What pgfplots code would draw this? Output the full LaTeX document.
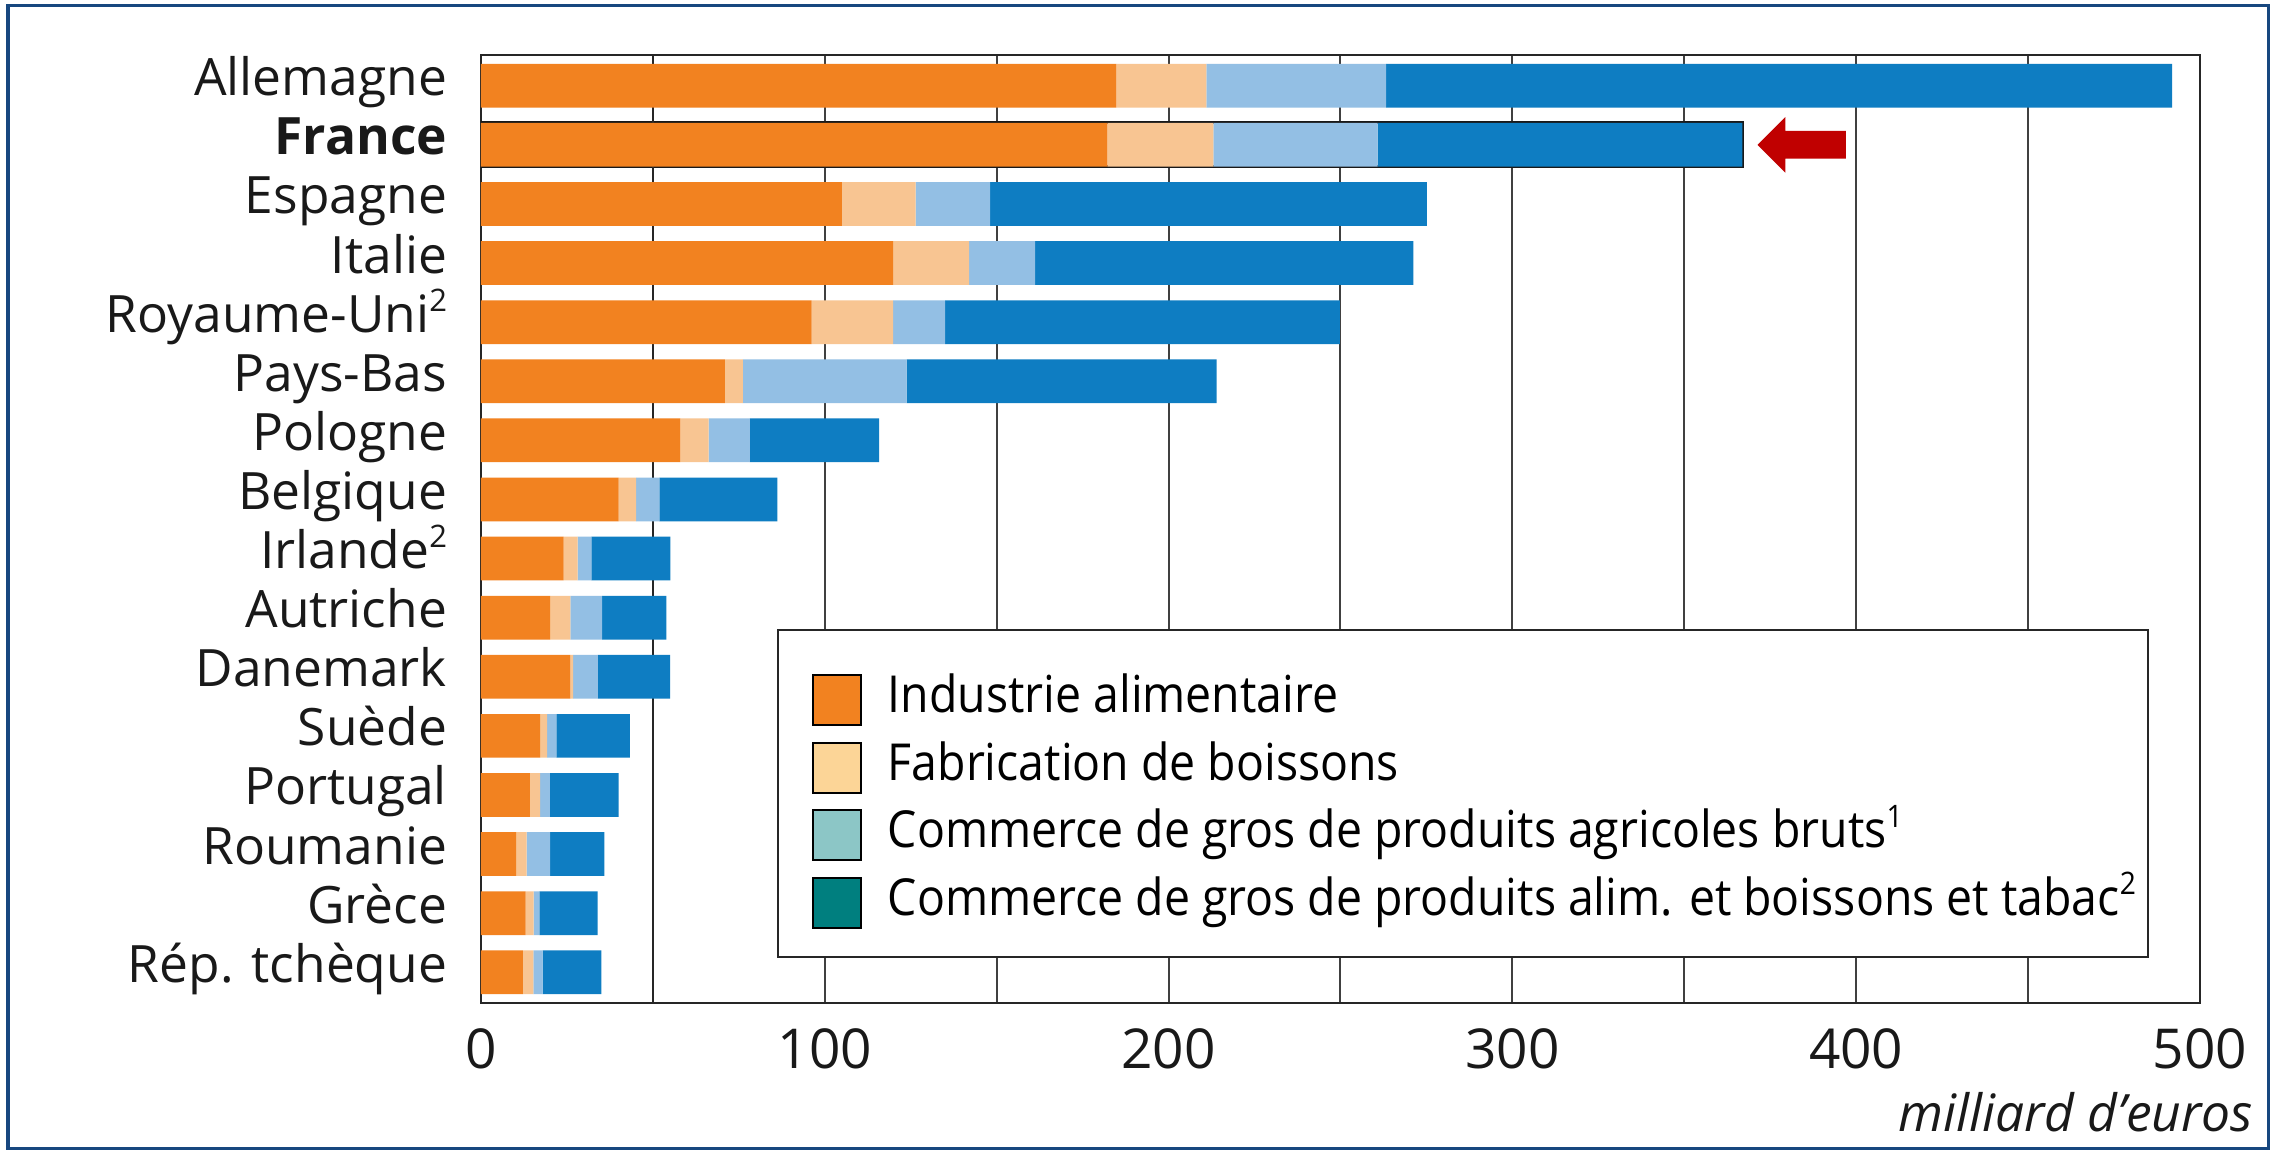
\documentclass[border=0pt]{standalone}
\usepackage{fontspec}
\setmainfont{Open Sans}
\newfontfamily\legfont{Open Sans}[FakeStretch=0.91]
\usepackage{pgfplots}
\pgfplotsset{compat=1.18}
\usepackage{pgfplotstable}

\definecolor{cOrange}{HTML}{F28220}
\definecolor{cPeach}{HTML}{F8C592}
\definecolor{cLBlue}{HTML}{93BFE4}
\definecolor{cDBlue}{HTML}{0E7DC2}
\definecolor{cLegPeach}{HTML}{FCD597}
\definecolor{cLegTeal}{HTML}{8CC6C6}
\definecolor{cLegDTeal}{HTML}{007F7F}
\definecolor{cArrow}{HTML}{C00000}
\definecolor{cFrame}{HTML}{17477F}

\newcommand{\sups}[1]{\raisebox{0.75ex}{\fontsize{6.2}{7}\selectfont #1}}

\pgfplotstableread{
idx a b c d
0 184.8 26.2 52.3 228.6
1 182.2 30.8 47.8 106.1
2 105.0 21.4 21.7 127.0
3 119.9 22.1 19.2 110.0
4 96.2 23.7 15.1 114.8
5 70.9 5.3 47.6 90.2
6 58.0 8.2 12.0 37.6
7 40.0 5.1 6.8 34.3
8 24.0 4.1 4.0 23.0
9 20.1 5.9 9.2 18.7
10 26.0 0.8 7.2 21.0
11 17.2 2.0 2.7 21.4
12 14.2 3.0 2.8 20.0
13 10.2 3.1 6.8 15.8
14 13.0 2.3 1.7 16.9
15 12.2 3.0 2.7 17.1
}\data

\begin{document}
\begin{tikzpicture}
\useasboundingbox (0,0) rectangle (456pt,230.8pt);
\fill[white] (0,0) rectangle (456pt,230.8pt);
\draw[cFrame, line width=0.7pt] (1.6pt,1.1pt) rectangle (453.7pt,229.7pt);
\begin{axis}[
  at={(96.2pt,30.2pt)}, anchor=south west,
  width=343.8pt, height=189.6pt, scale only axis,
  xbar stacked, bar width=0.74,
  xmin=0, xmax=500, ymin=-0.52, ymax=15.52, y dir=reverse,
  ytick={0,...,15},
  yticklabels={Allemagne,\textbf{France},Espagne,Italie,Royaume-Uni\sups{2},Pays-Bas,Pologne,Belgique,Irlande\sups{2},Autriche,Danemark,Suède,Portugal,Roumanie,Grèce,Rép. tchèque},
  xtick={0,100,...,500},
  minor xtick={50,150,...,450},
  xmajorgrids, xminorgrids,
  major grid style={black!75, line width=0.4pt},
  minor grid style={black!75, line width=0.4pt},
  major tick length=0pt, minor tick length=0pt,
  axis line style={black!85, line width=0.5pt},
  /pgf/number format/assume math mode=true,
  ticklabel style={text=black!90},
  yticklabel style={font=\fontsize{10.3}{12}\selectfont, inner sep=0pt, xshift=-6.6pt, text height=7.6pt, text depth=2.4pt, yshift=0.6pt},
  xticklabel style={font=\fontsize{11}{13}\selectfont, inner sep=0pt, yshift=-4.9pt},
  xlabel={\itshape milliard d’euros},
  xlabel style={at={(rel axis cs:1,0)}, anchor=east, inner sep=0pt, xshift=10.8pt, yshift=-21.8pt, font=\fontsize{10.3}{12}\selectfont, text=black!90},
  legend image code/.code={\fill[#1] (0pt,-5pt) rectangle (9.6pt,5pt);},
  legend cell align=left,
  legend style={at={(0.1919,0.3478)}, anchor=north west, draw=none, fill=none,
    inner sep=0pt, row sep=3.1pt,
    font=\legfont\fontsize{10.2}{12}\selectfont,
    nodes={inner sep=0pt, text height=7.5pt, text depth=2.5pt},
    /tikz/every odd column/.append style={column sep=5.2pt}},
]
\addplot[fill=cOrange, draw=none, forget plot] table[x=a, y=idx]{\data};
\addplot[fill=cPeach, draw=none, forget plot] table[x=b, y=idx]{\data};
\addplot[fill=cLBlue, draw=none, forget plot] table[x=c, y=idx]{\data};
\addplot[fill=cDBlue, draw=none, forget plot] table[x=d, y=idx]{\data};
\draw[black!85, line width=0.5pt] (axis cs:50,-0.52) -- (axis cs:50,15.52);
\draw[black!90, line width=0.6pt] (axis cs:0,0.63) rectangle (axis cs:366.9,1.37);
\fill[cArrow] (axis cs:371.3,1) -- (axis cs:379.4,0.53) -- (axis cs:379.4,0.765) -- (axis cs:397,0.765) -- (axis cs:397,1.235) -- (axis cs:379.4,1.235) -- (axis cs:379.4,1.47) -- cycle;
\filldraw[fill=white, draw=black!85, line width=0.5pt] (rel axis cs:0.1728,0.0485) rectangle (rel axis cs:0.9697,0.3935);
\addlegendimage{fill=cOrange}
\addlegendentry{Industrie alimentaire}
\addlegendimage{fill=cLegPeach}
\addlegendentry{Fabrication de boissons}
\addlegendimage{fill=cLegTeal}
\addlegendentry{Commerce de gros de produits agricoles bruts\sups{1}}
\addlegendimage{fill=cLegDTeal}
\addlegendentry{Commerce de gros de produits alim. et boissons et tabac\sups{2}}
\end{axis}
\end{tikzpicture}
\end{document}
